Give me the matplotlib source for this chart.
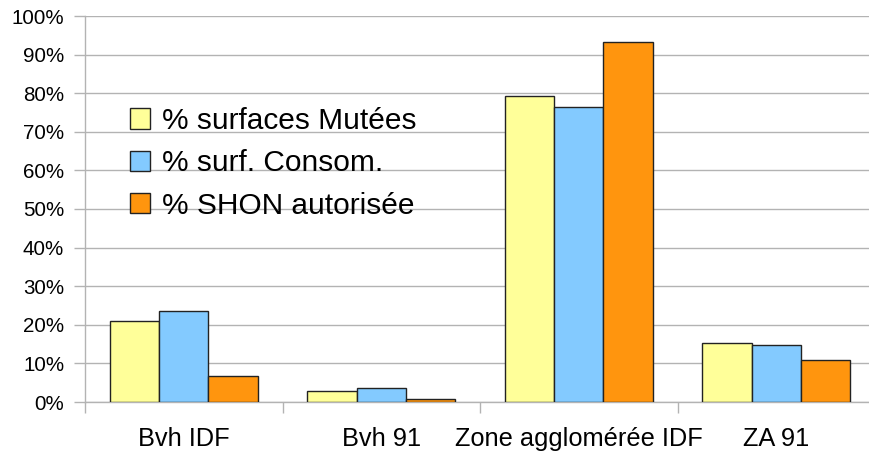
import numpy as np
import matplotlib.pyplot as plt
from matplotlib.ticker import FuncFormatter

categories = ["Bvh IDF", "Bvh 91", "Zone agglomérée IDF", "ZA 91"]
series_names = ["% surfaces Mutées", "% surf. Consom.", "% SHON autorisée"]
mutees = [20.9, 2.9, 79.3, 15.2]
consom = [23.6, 3.7, 76.5, 14.7]
shon = [6.8, 0.8, 93.2, 11.0]
colors = ["#ffff99", "#83caff", "#ff950e"]

plt.rcParams['font.family'] = ['Liberation Sans', 'DejaVu Sans']

fig = plt.figure(figsize=(8.69, 4.51), dpi=100)
ax = fig.add_axes([85 / 869, 1 - 402 / 451, 790 / 869, 386 / 451])

x = np.arange(len(categories))
w = 0.25
for i, (vals, name, c) in enumerate(zip([mutees, consom, shon], series_names, colors)):
    ax.bar(x + (i - 1) * w, vals, w, color=c, edgecolor="#222222",
           linewidth=1.0, label=name, zorder=3)

ax.set_xlim(-0.5, len(categories) - 0.5)
ax.set_ylim(0, 100)
ax.set_yticks(np.arange(0, 101, 10))
ax.yaxis.set_major_formatter(FuncFormatter(lambda v, p: "%d%%" % v))
ax.grid(axis="y", color="#b3b3b3", linewidth=1.0, zorder=0)

ax.set_xticks(x)
ax.set_xticklabels(categories, fontsize=18.3)
ax.set_xticks(np.arange(-0.5, len(categories) - 0.5, 1), minor=True)
ax.tick_params(axis="x", which="major", length=0, pad=18)
ax.tick_params(axis="x", which="minor", length=8, color="#b3b3b3", width=1)
ax.tick_params(axis="y", length=8, color="#b3b3b3", width=1, pad=7, labelsize=14.8)

for s in ["top", "right"]:
    ax.spines[s].set_visible(False)
for s in ["left", "bottom"]:
    ax.spines[s].set_color("#b3b3b3")
    ax.spines[s].set_linewidth(1.0)

ax.legend(loc="upper left", bbox_to_anchor=(118 / 869, 1 - 95 / 451),
          bbox_transform=fig.transFigure, frameon=False, fontsize=21.5,
          handlelength=0.68, handleheight=0.68, handletextpad=0.4,
          labelspacing=0.48, borderaxespad=0)

fig.savefig("out.png", dpi=100)
